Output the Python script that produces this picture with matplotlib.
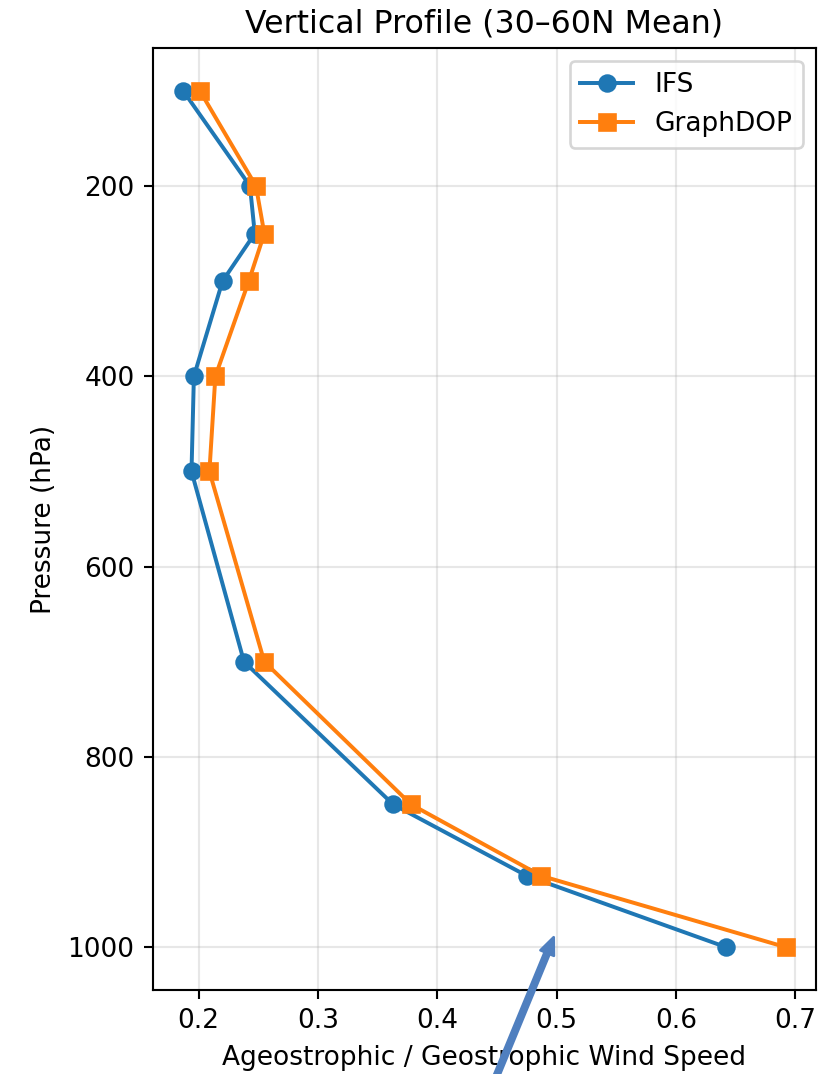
import matplotlib
matplotlib.use("Agg")
import matplotlib.pyplot as plt

# Pressure levels (hPa) and ratio of ageostrophic to geostrophic wind speed
pressure = [100, 200, 250, 300, 400, 500, 700, 850, 925, 1000]
ifs = [0.187, 0.243, 0.247, 0.220, 0.196, 0.194, 0.238, 0.363, 0.475, 0.642]
graphdop = [0.201, 0.248, 0.255, 0.242, 0.214, 0.209, 0.255, 0.378, 0.487, 0.692]

dpi = 190
fig = plt.figure(figsize=(838 / dpi, 1074 / dpi), dpi=dpi)
ax = fig.add_axes([0.1826, 0.0782, 0.9737 - 0.1826, 0.9553 - 0.0782])

ax.plot(ifs, pressure, marker="o", color="#1f77b4", label="IFS")
ax.plot(graphdop, pressure, marker="s", color="#ff7f0e", label="GraphDOP")

ax.invert_yaxis()
ax.set_title("Vertical Profile (30\u201360N Mean)")
ax.set_xlabel("Ageostrophic / Geostrophic Wind Speed")
ax.set_ylabel("Pressure (hPa)")
ax.grid(True, alpha=0.3)
ax.legend(loc="upper right")

# Pointer arrow rising from below the axis
ax.annotate("", xy=(0.4975, 989.5), xycoords="data",
            xytext=(470, -66), textcoords="figure pixels",
            arrowprops=dict(arrowstyle="simple,head_length=0.65,head_width=0.55,tail_width=0.2",
                            color="#4f7fbf", shrinkA=0, shrinkB=0),
            annotation_clip=False)

fig.savefig("out.png", dpi=dpi)
